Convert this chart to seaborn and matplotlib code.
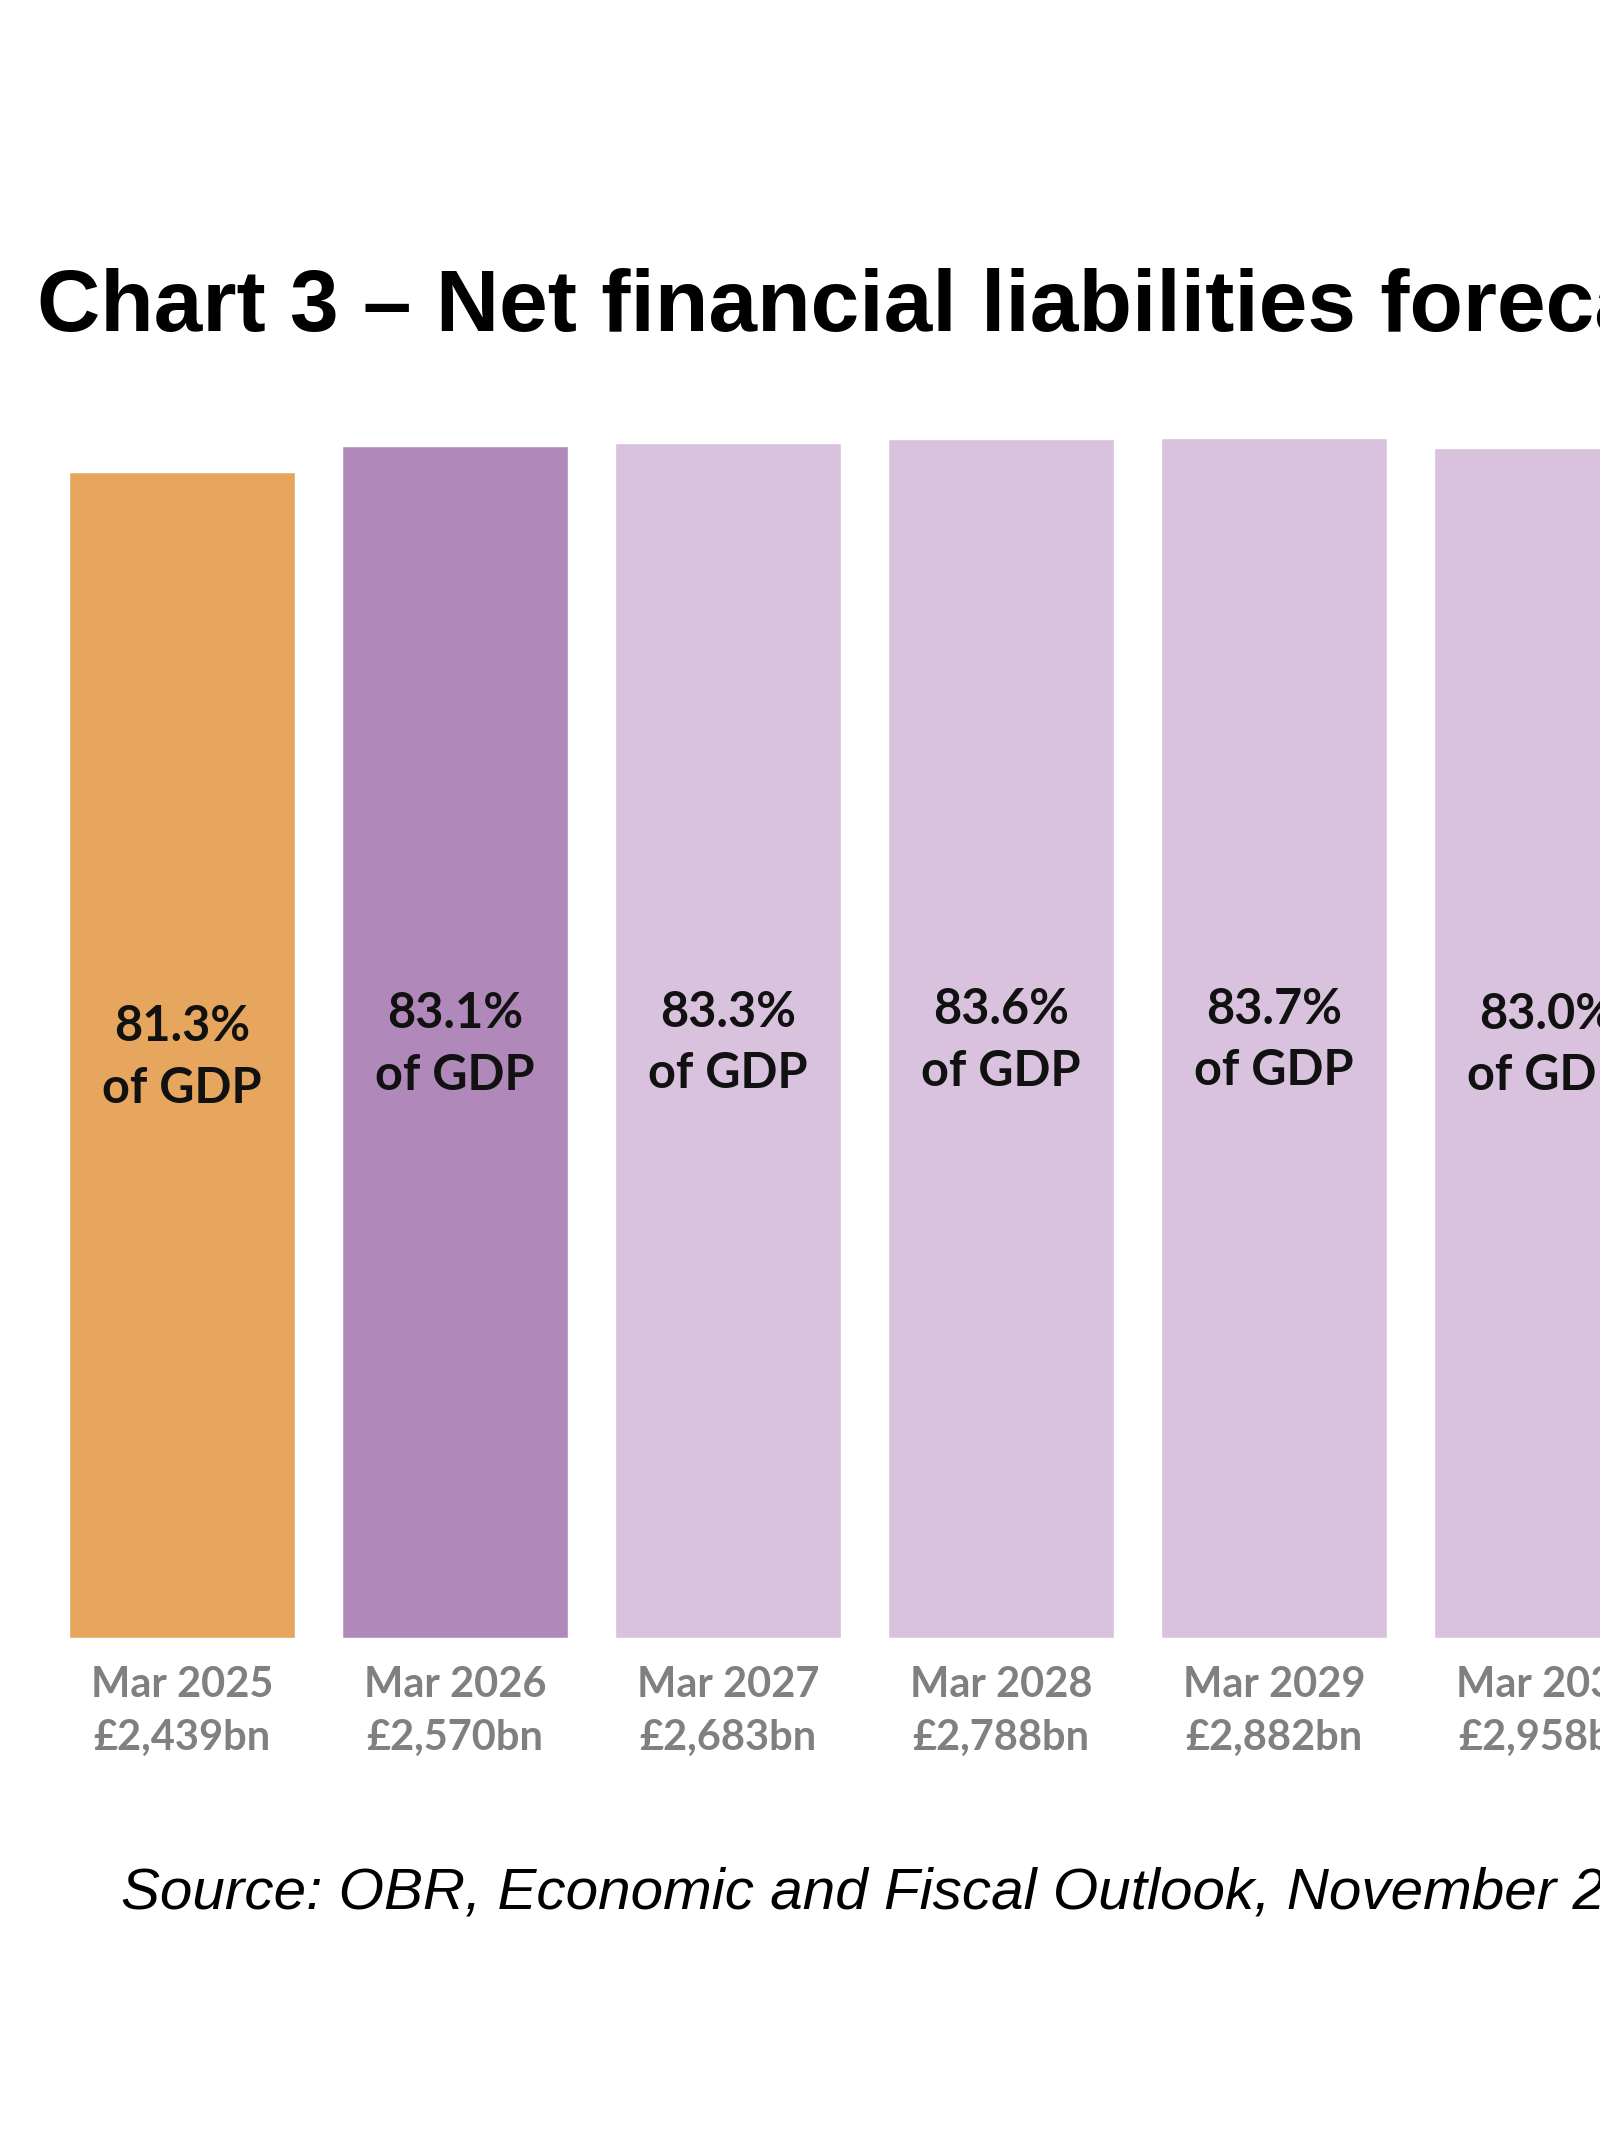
import matplotlib
matplotlib.use("Agg")
import matplotlib.pyplot as plt
import seaborn as sns
import pandas as pd

dates = ["Mar 2025", "Mar 2026", "Mar 2027", "Mar 2028", "Mar 2029", "Mar 2030"]
amounts = ["£2,439bn", "£2,570bn", "£2,683bn", "£2,788bn", "£2,882bn", "£2,958bn"]
pct_gdp = [81.3, 83.1, 83.3, 83.6, 83.7, 83.0]
bar_colors = ["#E6A65E", "#B089BA", "#D8C2DD", "#D8C2DD", "#D8C2DD", "#D8C2DD"]
title = "Chart 3 – Net financial liabilities forecast"
source = "Source: OBR, Economic and Fiscal Outlook, November 2025"

sns.set_style("white")
plt.rcParams['font.family'] = ['Lato', 'DejaVu Sans']

W, H = 1600, 2133
fig = plt.figure(figsize=(W / 100, H / 100), dpi=100)

bottom_px = 1638
unit_px = 14.34
ymax = 90
ax = fig.add_axes([0, 1 - bottom_px / H, 1, ymax * unit_px / H])

df = pd.DataFrame({"date": dates, "pct": pct_gdp})
sns.barplot(data=df, x="date", y="pct", hue="date", palette=bar_colors,
            width=0.83, legend=False, ax=ax, saturation=1)

spacing = 273
c0 = 182
ax.set_xlim(-c0 / spacing, (W - c0) / spacing)
ax.set_ylim(0, ymax)

for i, v in enumerate(pct_gdp):
    ax.text(i, v / 2 - 0.15, f"{v:.1f}%\nof GDP", ha="center", va="center",
            fontsize=35, fontweight="bold", color="#111111", linespacing=1.45,
            family=["Lato", "DejaVu Sans"])

ax.set_xticks(range(len(dates)))
ax.set_xticklabels([f"{d}\n{a}" for d, a in zip(dates, amounts)],
                   fontsize=30, fontweight="bold", color="#808080", linespacing=1.5)
ax.tick_params(axis="x", length=0, pad=20)
ax.set_yticks([])
ax.set_xlabel("")
ax.set_ylabel("")
for s in ax.spines.values():
    s.set_visible(False)

fig.text(37 / W, 1 - 331 / H, title, ha="left", va="baseline",
         fontsize=63, fontweight="bold", family=["Liberation Sans", "DejaVu Sans"], color="black")
fig.text(121 / W, 1 - 1909 / H, source, ha="left", va="baseline",
         fontsize=42, fontstyle="italic", family=["Liberation Sans", "DejaVu Sans"], color="black")

fig.savefig("out.png", dpi=100)
